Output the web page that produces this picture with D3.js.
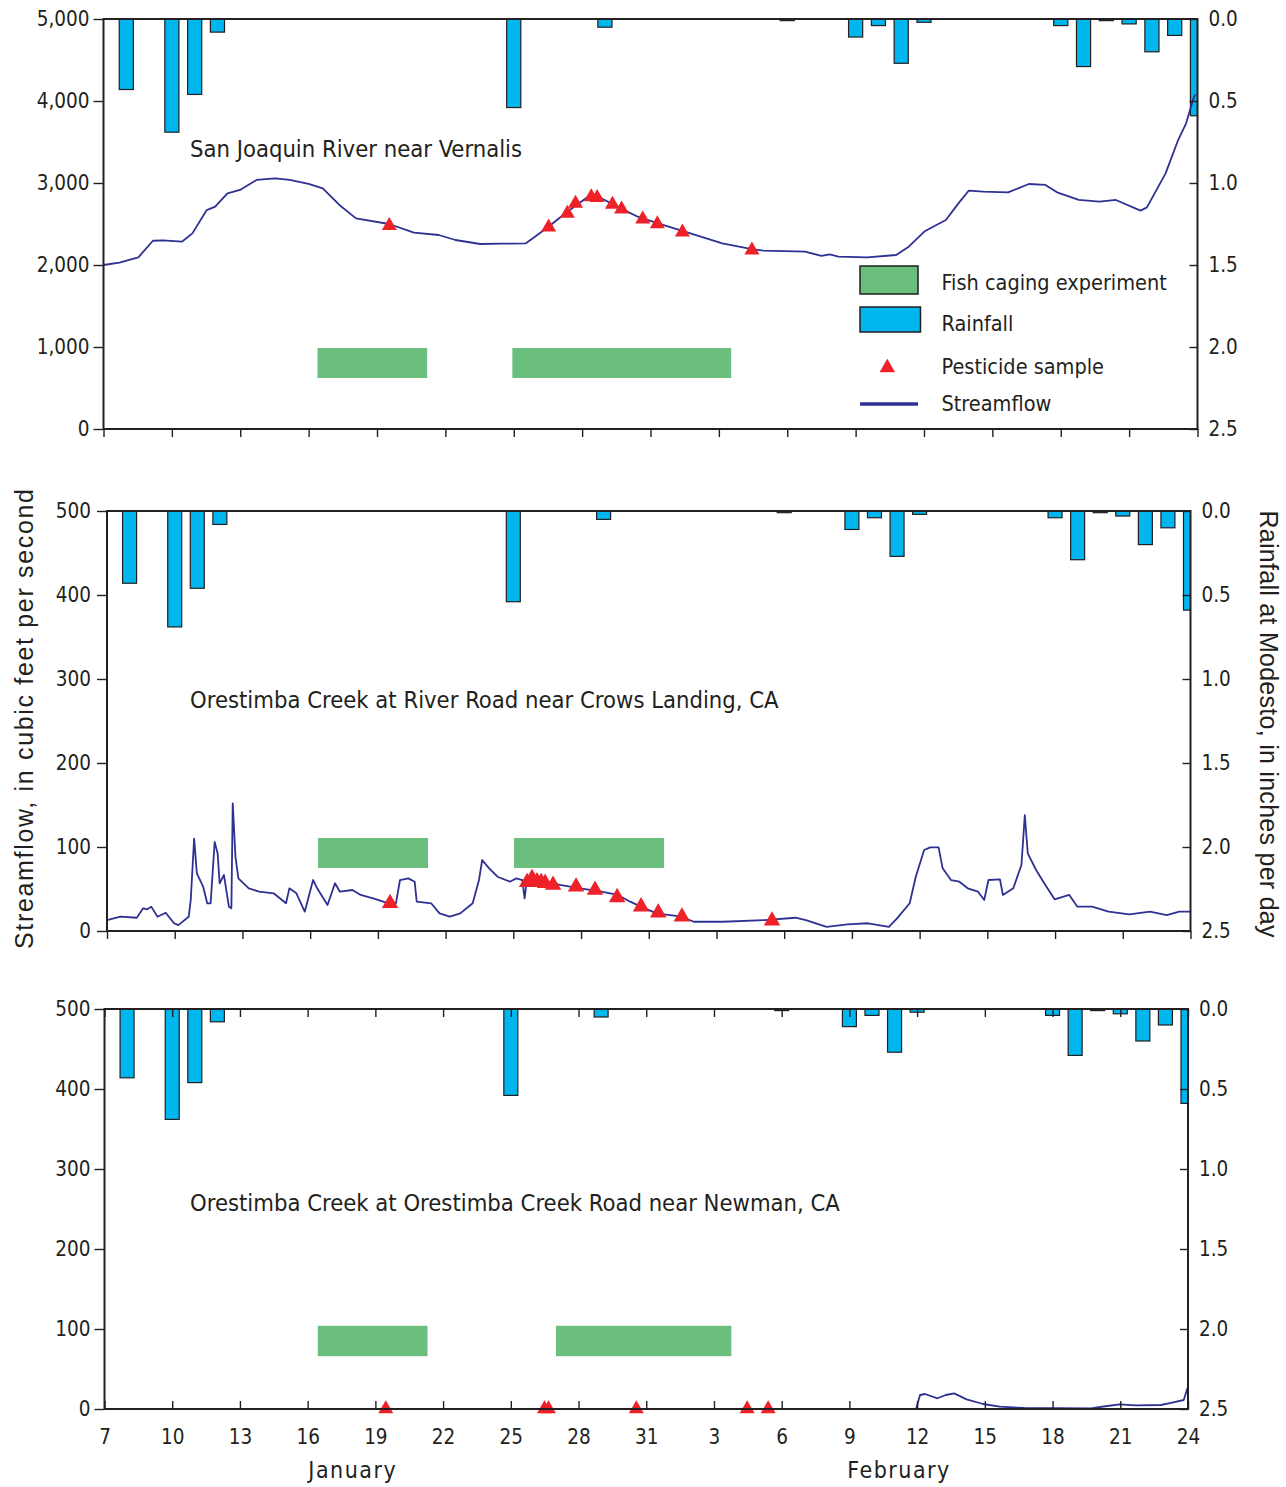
<!DOCTYPE html>
<html>
<head>
<meta charset="utf-8">
<script src="https://cdn.jsdelivr.net/npm/d3@7"></script>
<style>
  body { margin: 0; background: #fff; }
  svg text { font-family: "Liberation Sans Narrow", "DejaVu Sans Condensed", "Arial Narrow", sans-serif; fill: #231f20; }
  .axis-title { font-family: "Liberation Sans", Arial, sans-serif !important; }
</style>
</head>
<body>
<div id="chart"></div>
<script>
// Days are counted from January 7 (day 0) to February 24 (day 48)
const startDate = new Date(2001, 0, 7)
const endDate = new Date(2001, 1, 24)
const tickLabels = ['7', '10', '13', '16', '19', '22', '25', '28', '31', '3', '6', '9', '12', '15', '18', '21', '24']
const monthNames = ['January', 'February']
const monthCenters = [11, 35.2]

// Daily rainfall at Modesto, inches
const rainDays = [1, 3, 4, 5, 18, 22, 30, 33, 34, 35, 36, 42, 43, 44, 45, 46, 47, 48]
const rainInches = [0.43, 0.69, 0.46, 0.08, 0.54, 0.05, 0.01, 0.11, 0.04, 0.27, 0.02, 0.04, 0.29, 0.01, 0.03, 0.20, 0.10, 0.59]

// Streamflow, [day, cubic feet per second]
const vernalisFlow = [[0, 2000], [0.7, 2030], [1.53, 2094], [2.17, 2296], [2.6, 2300], [3.44, 2284], [3.9, 2386], [4.53, 2670],
  [4.9, 2711], [5.44, 2874], [5.99, 2915], [6.71, 3037], [7.53, 3057], [8.17, 3037], [9.0, 2990], [9.62, 2935], [10.35, 2732],
  [11.08, 2569], [12.53, 2500], [13.62, 2394], [14.71, 2366], [15.44, 2305], [16.53, 2256], [17.5, 2260], [18.53, 2264],
  [18.9, 2338], [19.62, 2488], [20.35, 2650], [21.26, 2833], [21.7, 2830], [21.99, 2793], [22.7, 2691], [23.44, 2589],
  [24.33, 2508], [25.4, 2415], [27.15, 2264], [28.5, 2191], [28.96, 2175], [30.78, 2162], [31.5, 2110], [31.87, 2130],
  [32.24, 2102], [33.5, 2094], [34.78, 2122], [35.33, 2224], [36.05, 2415], [36.96, 2549], [37.51, 2752], [37.96, 2906],
  [38.6, 2894], [39.69, 2886], [40.6, 2988], [41.33, 2976], [41.87, 2882], [42.79, 2793], [43.7, 2772], [44.42, 2793],
  [45.5, 2663], [45.78, 2703], [46.6, 3118], [47.15, 3524], [47.5, 3728], [47.8, 4012], [47.9, 4080]]

const riverRoadFlow = [[0, 13], [0.59, 17], [1.32, 15.8], [1.6, 27], [1.78, 25.8], [1.96, 29], [2.24, 17], [2.6, 21.8],
  [2.97, 9.2], [3.16, 7], [3.62, 17], [3.71, 37], [3.86, 110], [3.98, 68.7], [4.26, 52.7], [4.44, 33], [4.59, 33],
  [4.77, 106], [4.9, 92.5], [4.99, 56.8], [5.18, 66.7], [5.4, 29], [5.51, 27], [5.57, 152], [5.69, 88.5], [5.82, 62.7],
  [6.28, 50.8], [6.74, 46.8], [7.38, 44.9], [7.93, 33], [8.08, 50.8], [8.39, 44.9], [8.76, 23], [9.13, 60.7], [9.31, 50.8],
  [9.77, 31], [10.1, 56.8], [10.32, 46.8], [10.87, 48.8], [11.24, 42.9], [11.79, 38.9], [12.34, 34], [12.8, 33],
  [12.98, 60.7], [13.35, 62.7], [13.63, 58.7], [13.72, 34.9], [14.36, 33], [14.73, 21], [15.19, 17], [15.65, 21],
  [16.2, 33], [16.48, 60.7], [16.62, 84.5], [16.93, 74.6], [17.3, 64.6], [17.85, 58.7], [18.13, 62.7], [18.4, 60.7],
  [18.5, 38.9], [18.59, 58.7], [19.14, 60.7], [20.06, 54.8], [20.97, 50.8], [21.9, 46.8], [22.63, 42.9], [23.18, 34.9],
  [23.64, 29], [24.35, 21], [25.45, 17], [26, 11], [27.29, 11], [29.13, 13], [30.5, 15.8], [30.96, 13], [31.88, 5],
  [32.8, 8], [33.72, 9.2], [34.64, 5], [35.0, 15], [35.56, 33], [35.83, 64.6], [36.2, 96.4], [36.47, 99.6], [36.84, 99.6],
  [37.02, 74.6], [37.39, 60.7], [37.76, 58.7], [38.13, 50.8], [38.59, 46.8], [38.86, 36.9], [39.05, 60.7], [39.56, 61.5],
  [39.69, 42.9], [40.15, 50.8], [40.51, 78.6], [40.66, 138], [40.79, 92.5], [41.16, 72.6], [41.52, 56.8], [41.98, 37.7],
  [42.63, 42.9], [42.99, 29], [43.64, 29], [44.37, 23], [45.29, 19.8], [46.21, 23], [46.95, 19], [47.5, 23], [48, 23]]

const newmanFlow = [[0, 0], [35.95, 0], [36.13, 17.5], [36.35, 18.75], [36.9, 13.4], [37.27, 17.5], [37.64, 19.6],
  [38.19, 12], [38.92, 6.25], [39.66, 2.9], [40.76, 1.25], [43.69, 0.9], [44.42, 3.75], [44.97, 5.8], [45.7, 4.6],
  [46.8, 5], [47.35, 8.3], [47.81, 11.25], [48, 28]]

// Pesticide samples, [day, cubic feet per second]
const vernalisSamples = [[12.54, 2480], [19.53, 2460], [20.35, 2630], [20.71, 2750], [21.4, 2830], [21.66, 2820],
  [22.33, 2740], [22.73, 2680], [23.66, 2560], [24.3, 2500], [25.4, 2400], [28.45, 2180]]
const riverRoadSamples = [[12.54, 33], [18.61, 58], [18.83, 62.7], [19.05, 59], [19.23, 58], [19.41, 57], [19.76, 54.8],
  [20.78, 52.7], [21.62, 48.8], [22.6, 40], [23.66, 29], [24.42, 21.8], [25.47, 17], [29.46, 12.3]]
const newmanSamples = [[12.46, 0], [19.49, 0], [19.67, 0], [23.56, 0], [28.47, 0], [29.4, 0]]

// Fish caging experiment periods, [start day, end day]
const vernalisCaging = [[9.39, 14.2], [17.94, 27.54]]
const riverRoadCaging = [[9.35, 14.22], [18.03, 24.68]]
const newmanCaging = [[9.45, 14.31], [20.0, 27.77]]

const legendItems = ['Fish caging experiment', 'Rainfall', 'Pesticide sample', 'Streamflow']

const colors = { ink: '#231f20', flow: '#2e3192', rain: '#00b6ef', fish: '#69bf7b', sample: '#ed2127' }

const panels = [
  { title: 'San Joaquin River near Vernalis', flow: vernalisFlow, samples: vernalisSamples, caging: vernalisCaging,
    band: [622, 988], yMax: 5000, yStep: 1000, fmt: ',', left: 103.5, right: 1197.5, top: 19, bottom: 429,
    titleY: 157, tri: 15, legend: true, bottomAxis: false },
  { title: 'Orestimba Creek at River Road near Crows Landing, CA', flow: riverRoadFlow, samples: riverRoadSamples,
    caging: riverRoadCaging, band: [75, 110.7], yMax: 500, yStep: 100, fmt: 'd', left: 107, right: 1190.5, top: 511,
    bottom: 931, titleY: 708, tri: 16.5, legend: false, bottomAxis: false },
  { title: 'Orestimba Creek at Orestimba Creek Road near Newman, CA', flow: newmanFlow, samples: newmanSamples,
    caging: newmanCaging, band: [66, 104], yMax: 500, yStep: 100, fmt: 'd', left: 104.5, right: 1188, top: 1009,
    bottom: 1409, titleY: 1211, tri: 15, legend: false, bottomAxis: true }
]

const width = 1286
const height = 1487
const toDate = d => new Date(startDate.getTime() + d * 864e5)

const svg = d3.select('#chart').append('svg')
  .attr('width', width)
  .attr('height', height)

panels.forEach((p, i) => drawPanel(p, i))
drawAxisTitles()

function drawPanel(p, i) {
  const x = d3.scaleTime().domain([startDate, endDate]).range([p.left, p.right])
  const y = d3.scaleLinear().domain([0, p.yMax]).range([p.bottom, p.top])
  const rainY = d3.scaleLinear().domain([0, 2.5]).range([p.top, p.bottom])
  const dayWidth = x(toDate(1)) - x(toDate(0))
  const barW = dayWidth * 0.62

  const clipId = 'clip' + i
  svg.append('clipPath').attr('id', clipId).append('rect')
    .attr('x', p.left).attr('y', p.top)
    .attr('width', p.right - p.left).attr('height', p.bottom - p.top)

  const g = svg.append('g')
  const plot = g.append('g').attr('clip-path', `url(#${clipId})`)

  // fish caging periods
  plot.selectAll('.cage')
    .data(p.caging)
    .enter().append('rect')
      .attr('class', 'cage')
      .attr('x', d => x(toDate(d[0])))
      .attr('width', d => x(toDate(d[1])) - x(toDate(d[0])))
      .attr('y', y(p.band[1]))
      .attr('height', y(p.band[0]) - y(p.band[1]))
      .style('fill', colors.fish)

  // rainfall bars hanging from the top
  plot.selectAll('.rain')
    .data(rainDays.map((d, k) => ({ day: d, inches: rainInches[k] })))
    .enter().append('rect')
      .attr('class', 'rain')
      .attr('x', d => x(toDate(d.day)) - barW / 2)
      .attr('width', barW)
      .attr('y', rainY(0))
      .attr('height', d => rainY(d.inches) - rainY(0))
      .style('fill', colors.rain)
      .style('stroke', colors.ink)
      .style('stroke-width', 1.2)

  // streamflow
  const line = d3.line()
    .x(d => x(toDate(d[0])))
    .y(d => y(d[1]))
  plot.append('path')
    .datum(p.flow)
    .attr('d', line)
    .style('fill', 'none')
    .style('stroke', colors.flow)
    .style('stroke-width', 1.8)
    .style('stroke-linejoin', 'round')

  // pesticide samples
  const tri = d3.symbol().type(d3.symbolTriangle).size(p.tri * p.tri * Math.sqrt(3) / 4)
  g.selectAll('.sample')
    .data(p.samples)
    .enter().append('path')
      .attr('class', 'sample')
      .attr('d', tri)
      .attr('transform', d => `translate(${x(toDate(d[0]))}, ${y(d[1])})`)
      .style('fill', colors.sample)

  // axes
  const yTicks = d3.range(0, p.yMax + 1, p.yStep)
  const leftAxis = d3.axisLeft(y).tickValues(yTicks).tickSize(10).tickSizeOuter(0)
    .tickPadding(p.left > 105 ? 6 : 4).tickFormat(d3.format(p.fmt))
  const rightAxis = d3.axisRight(rainY).tickValues([0, 0.5, 1, 1.5, 2, 2.5]).tickSize(-8).tickSizeOuter(0)
    .tickPadding(11).tickFormat(d3.format('.1f'))
  const xTicks = d3.range(0, 49, 3).map(toDate)
  const bottomAxis = d3.axisBottom(x).tickValues(xTicks).tickSizeOuter(0)
  if (p.bottomAxis) {
    bottomAxis.tickSize(-8).tickPadding(20).tickFormat((d, k) => tickLabels[k])
    g.append('g')
      .attr('transform', `translate(0, ${p.top})`)
      .call(d3.axisTop(x).tickValues(xTicks).tickSize(-8).tickSizeOuter(0).tickFormat(''))
  } else {
    bottomAxis.tickSize(8).tickFormat('')
  }
  g.append('g').attr('transform', `translate(${p.left}, 0)`).call(leftAxis)
  g.append('g').attr('transform', `translate(${p.right}, 0)`).call(rightAxis)
  g.append('g').attr('transform', `translate(0, ${p.bottom})`).call(bottomAxis)
  g.selectAll('.domain').remove()
  g.selectAll('.tick line').style('stroke', colors.ink).style('stroke-width', 1.4)
  g.selectAll('.tick text').style('font-size', '20.5px').style('font-family', null)

  g.append('rect')
    .attr('x', p.left).attr('y', p.top)
    .attr('width', p.right - p.left).attr('height', p.bottom - p.top)
    .style('fill', 'none')
    .style('stroke', colors.ink)
    .style('stroke-width', 2)

  g.append('text')
    .attr('x', 190)
    .attr('y', p.titleY)
    .style('font-size', '23.6px')
    .text(p.title)

  if (p.bottomAxis) {
    g.selectAll('.month')
      .data(monthNames)
      .enter().append('text')
        .attr('class', 'month')
        .attr('x', (d, k) => x(toDate(monthCenters[k])))
        .attr('y', 1478)
        .attr('text-anchor', 'middle')
        .style('font-size', '23px')
        .style('letter-spacing', '1.5px')
        .text(d => d)
  }

  if (p.legend) drawLegend(g)
}

function drawLegend(g) {
  const lx = 860
  const tx = 941.5
  g.append('rect').attr('x', lx).attr('y', 266).attr('width', 58).attr('height', 28)
    .style('fill', colors.fish).style('stroke', colors.ink).style('stroke-width', 1.5)
  g.append('rect').attr('x', lx).attr('y', 307).attr('width', 60.5).attr('height', 25)
    .style('fill', colors.rain).style('stroke', colors.ink).style('stroke-width', 1.5)
  g.append('path')
    .attr('d', d3.symbol().type(d3.symbolTriangle).size(15.5 * 15.5 * Math.sqrt(3) / 4))
    .attr('transform', 'translate(887.3, 367.8)')
    .style('fill', colors.sample)
  g.append('line').attr('x1', lx).attr('x2', 918).attr('y1', 404).attr('y2', 404)
    .style('stroke', colors.flow).style('stroke-width', 3.5)
  const baselines = [290, 331, 374, 411]
  g.selectAll('.legend-text')
    .data(legendItems)
    .enter().append('text')
      .attr('class', 'legend-text')
      .attr('x', tx)
      .attr('y', (d, k) => baselines[k])
      .style('font-size', '21.5px')
      .text(d => d)
}

function drawAxisTitles() {
  svg.append('text')
    .attr('class', 'axis-title')
    .attr('transform', 'translate(33, 719) rotate(-90)')
    .attr('text-anchor', 'middle')
    .attr('textLength', 460)
    .attr('lengthAdjust', 'spacing')
    .style('font-size', '25px')
    .text('Streamflow, in cubic feet per second')
  svg.append('text')
    .attr('class', 'axis-title')
    .attr('transform', 'translate(1260, 724) rotate(90)')
    .attr('text-anchor', 'middle')
    .attr('textLength', 427)
    .attr('lengthAdjust', 'spacing')
    .style('font-size', '25px')
    .text('Rainfall at Modesto, in inches per day')
}
</script>
</body>
</html>
